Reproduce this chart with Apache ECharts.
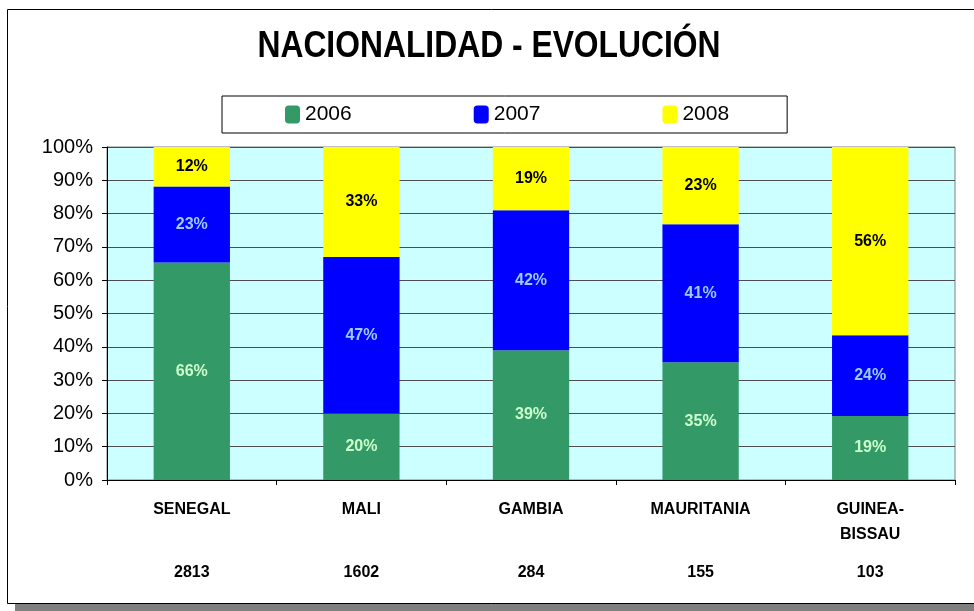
<!DOCTYPE html>
<html>
<head>
<meta charset="utf-8">
<script src="https://cdn.jsdelivr.net/npm/echarts@6/dist/echarts.min.js"></script>
<style>
  html, body { margin: 0; padding: 0; background: #fff; }
  #chart { width: 974px; height: 611px; }
</style>
</head>
<body>
<div id="chart"></div>
<script>
const categories = ['SENEGAL', 'MALI', 'GAMBIA', 'MAURITANIA', 'GUINEA-\nBISSAU'];
const totals = [2813, 1602, 284, 155, 103];
const years = ['2006', '2007', '2008'];
const pct2006 = [66, 20, 39, 35, 19];
const pct2007 = [23, 47, 42, 41, 24];
const pct2008 = [12, 33, 19, 23, 56];
const titleText = 'NACIONALIDAD - EVOLUCIÓN';

const colors = ['#339966', '#0000FF', '#FFFF00'];
const labelColors = ['#CCFFCC', '#99CCFF', '#000000'];
const raw = [pct2006, pct2007, pct2008];

// stacked to 100%: each bar is normalised by its own sum
const sums = categories.map((_, i) => raw.reduce((s, arr) => s + arr[i], 0));

const chart = echarts.init(document.getElementById('chart'));

chart.setOption({
  animation: false,
  textStyle: { fontFamily: 'Liberation Sans, Arial, sans-serif' },
  graphic: [
    { type: 'rect', z: -10, shape: { x: 15, y: 17, width: 980, height: 594 }, style: { fill: '#808080' } },
    { type: 'rect', z: -9, shape: { x: 7.5, y: 9.5, width: 990, height: 594 }, style: { fill: '#fff', stroke: '#000', lineWidth: 1 } },
    // condensed bold title (no narrow font installed, so squeeze it)
    {
      type: 'text',
      x: 489, y: 47,
      scaleX: 0.86,
      style: {
        text: titleText,
        fill: '#000',
        font: 'bold 37px "Liberation Sans", Arial, sans-serif',
        align: 'center',
        verticalAlign: 'middle'
      }
    }
  ],
  legend: {
    data: years,
    left: 222,
    top: 96,
    padding: [8, 58, 8, 63],
    itemGap: 122,
    itemWidth: 15,
    itemHeight: 18,
    icon: 'roundRect',
    borderColor: '#000',
    borderWidth: 1,
    textStyle: { fontSize: 21, color: '#000' }
  },
  grid: {
    left: 107,
    right: 19,
    top: 147,
    bottom: 131,
    show: true,
    backgroundColor: '#CCFFFF',
    borderColor: '#808080',
    borderWidth: 1,
    containLabel: false
  },
  xAxis: {
    type: 'category',
    data: categories,
    axisLine: { lineStyle: { color: '#000' } },
    axisTick: { show: true, length: 5, lineStyle: { color: '#000' } },
    axisLabel: {
      interval: 0,
      margin: 17,
      formatter: (v, i) => {
        const parts = v.split('\n');
        const l2 = parts[1] || ' ';
        return '{n|' + parts[0] + '}\n{n|' + l2 + '}\n{c|' + totals[i] + '}';
      },
      rich: {
        n: { fontSize: 16, fontWeight: 'bold', color: '#000', lineHeight: 25, align: 'center' },
        c: { fontSize: 16, fontWeight: 'bold', color: '#000', lineHeight: 34, verticalAlign: 'bottom', align: 'center' }
      }
    }
  },
  yAxis: {
    type: 'value',
    min: 0,
    max: 100,
    interval: 10,
    axisLine: { show: true, lineStyle: { color: '#000' } },
    axisTick: { show: true, length: 5, lineStyle: { color: '#000' } },
    splitLine: { lineStyle: { color: '#4d4d4d', width: 1 } },
    axisLabel: { formatter: '{value}%', fontSize: 20, color: '#000', margin: 14 }
  },
  series: years.map((y, k) => ({
    name: y,
    type: 'bar',
    stack: 'total',
    barWidth: '45%',
    itemStyle: { color: colors[k] },
    label: {
      show: true,
      position: 'inside',
      color: labelColors[k],
      fontSize: 16,
      fontWeight: 'bold',
      formatter: (p) => raw[k][p.dataIndex] + '%'
    },
    data: raw[k].map((v, i) => v / sums[i] * 100)
  }))
});
</script>
</body>
</html>
